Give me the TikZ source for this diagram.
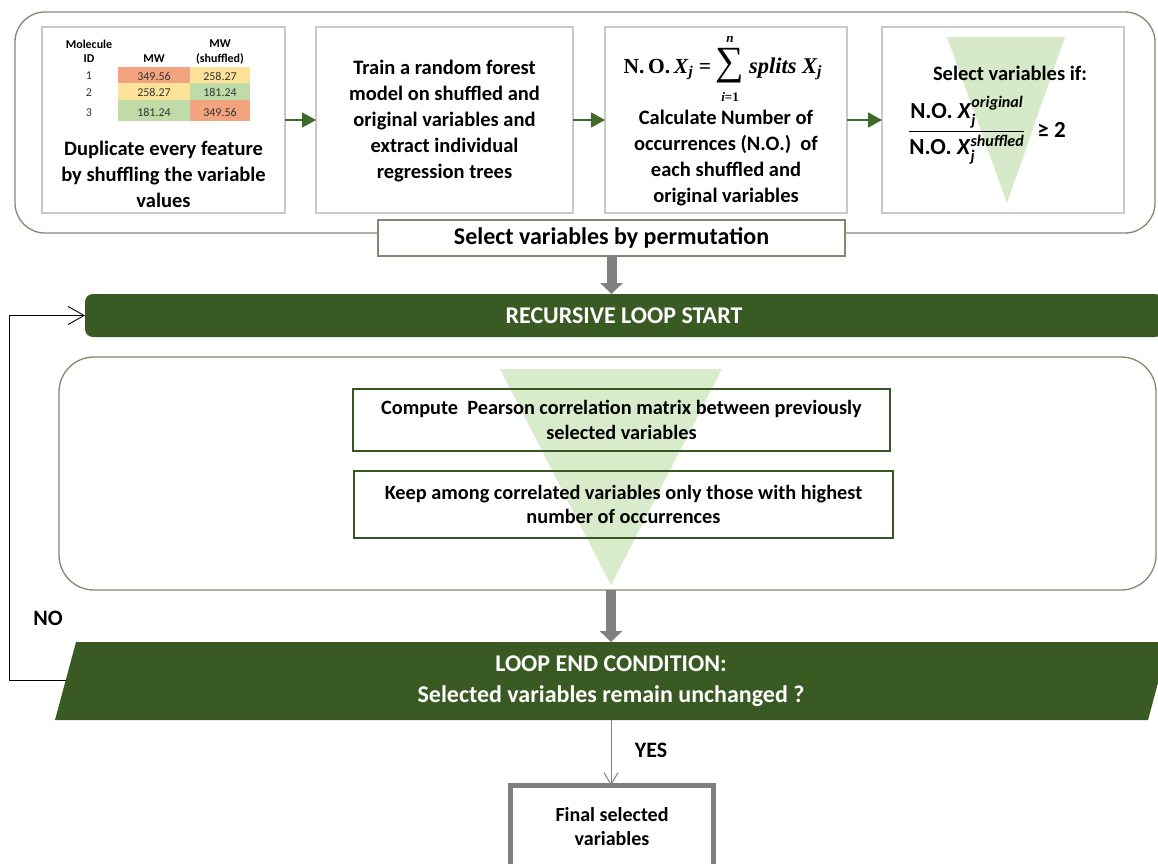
\documentclass[tikz,border=0pt]{standalone}
\usepackage{amsmath}
\usepackage[no-math]{fontspec}
\setmainfont{Carlito}
\newfontfamily\cambria{Liberation Serif}
\usetikzlibrary{arrows.meta,calc}
\definecolor{dg}{HTML}{3A5A23}
\definecolor{ag}{HTML}{3F6A27}
\definecolor{cb}{HTML}{7D8C6F}
\definecolor{bx}{HTML}{C9C9C9}
\definecolor{tri}{HTML}{CFE6BF}
\definecolor{gr}{HTML}{808080}
\definecolor{co}{HTML}{F3A47E}
\definecolor{cy}{HTML}{FDE39A}
\definecolor{cg}{HTML}{BFDBA8}
\definecolor{ib}{HTML}{375623}
\begin{document}
\begin{tikzpicture}[x=1pt,y=-1pt,
  every node/.style={inner sep=0pt,outer sep=0pt},
  container/.style={draw=cb,line width=1.3pt,fill=white,rounded corners=30pt},
  stepbox/.style={draw=bx,line width=1.2pt,minimum height=186pt},
  txt/.style={align=center,font=\fontsize{20.5}{26}\selectfont\bfseries},
  cell/.style={font=\fontsize{12}{14}\selectfont,text=black!80},
  hdr/.style={font=\fontsize{12}{14}\selectfont\bfseries},
  mathtxt/.style={font=\cambria\fontsize{21.5}{24}\selectfont\bfseries},
  limtxt/.style={font=\cambria\fontsize{13}{15}\selectfont\bfseries\itshape},
  garrow/.style={draw=ag,line width=1.8pt,-{Triangle[length=14pt,width=15pt]}},
  grayarrow/.style={draw=gr,line width=10pt,-{Triangle[length=11pt,width=22pt]}},
  thinarrow/.style={draw=black,line width=0.9pt,-{Straight Barb[length=16pt,width=18pt]}},
  yesarrow/.style={draw=gr,line width=1pt,-{Straight Barb[length=12pt,width=14pt]}},
  labbox/.style={draw=cb,line width=1.3pt,fill=white,font=\fontsize{24}{28}\selectfont\bfseries},
  greenbar/.style={fill=dg,rounded corners=8pt,text=white,font=\fontsize{24}{28}\selectfont\bfseries},
  innerbox/.style={draw=ib,line width=1.4pt,align=center,font=\fontsize{20.3}{24.5}\selectfont\bfseries},
  finalbox/.style={draw=gr,line width=5pt,fill=white,align=center,font=\fontsize{20}{23.5}\selectfont\bfseries}
]
\path[use as bounding box] (0,0) rectangle (1158,863);

% ---- top container
\node[container,minimum width=1140pt,minimum height=221pt] (perm) at (585,122.5) {};
\node[stepbox,minimum width=243pt] (b1) at (163.5,120) {};
\node[stepbox,minimum width=257pt] (b2) at (444.5,120) {};
\node[stepbox,minimum width=242pt] (b3) at (726,120) {};
\fill[tri,opacity=.85] (947,37) -- (1065,37) -- (1007,203) -- cycle;
\node[stepbox,minimum width=242pt] (b4) at (1003,120) {};

% table
\fill[co] (118,67) rectangle (190,83);
\fill[cy] (190,67) rectangle (250,83);
\fill[cy] (118,83) rectangle (190,100);
\fill[cg] (190,83) rectangle (250,100);
\fill[cg] (118,100) rectangle (190,121);
\fill[co] (190,100) rectangle (250,121);
\node[hdr] (h1) at (89,44) {Molecule};
\node[hdr] (h2) at (89,59) {ID};
\node[hdr] (h3) at (154,59) {MW};
\node[hdr] (h4) at (220,44) {MW};
\node[hdr] (h5) at (220,59) {(shuffled)};
\node[cell] (r1) at (89,76) {1};
\node[cell] (r2) at (89,92.5) {2};
\node[cell] (r3) at (89,112.5) {3};
\node[cell] (c11) at (154,76) {349.56};
\node[cell] (c12) at (220,76) {258.27};
\node[cell] (c21) at (154,92.5) {258.27};
\node[cell] (c22) at (220,92.5) {181.24};
\node[cell] (c31) at (154,112.5) {181.24};
\node[cell] (c32) at (220,112.5) {349.56};

\node[txt] (t1) at (163.5,174) {Duplicate every feature\\by shuffling the variable\\values};
\node[txt] (t2) at (444.5,121) {Train a random forest\\model on shuffled and\\original variables and\\extract individual\\regression trees};

% formula N.O. X_j = sum splits X_j
\node[mathtxt,anchor=base east] (fl) at (711,73) {N.\,O.\,\textit{X}\textsubscript{\textit{j}} =};
\node[font=\cambria\fontsize{40}{42}\selectfont] (fsum) at (730,66) {∑};
\node[limtxt] (fn) at (730,39) {n};
\node[limtxt] (fi) at (730,97) {i\upshape=1};
\node[mathtxt,anchor=base west,font=\cambria\fontsize{22.5}{24}\selectfont\bfseries\itshape] (fr) at (749,73) {splits~X\textsubscript{j}};

\node[txt] (t3) at (726,158) {Calculate Number of\\occurrences (N.O.)~ of\\each shuffled and\\original variables};
\node[txt] (t4) at (1010,73) {Select variables if:};
\node[font=\fontsize{23}{25}\selectfont\bfseries] (f4) at (987,130)
  {$\dfrac{\text{N.O. \textit{X}}^{\text{\textit{original}}}_{\text{\textit{j}}}}{\text{N.O. \textit{X}}^{\text{\textit{shuffled}}}_{\text{\textit{j}}}}$\hspace{12pt}≥ 2};

\draw[garrow] (b1.east) -- (b2.west);
\draw[garrow] (b2.east) -- (b3.west);
\draw[garrow] (b3.east) -- (b4.west);

\node[labbox,minimum width=467pt,minimum height=36pt] (sel) at (611.5,238) {Select variables by permutation};

% ---- loop start bar
\node[greenbar,minimum width=1078pt,minimum height=43pt] (bar) at (624,315.5) {RECURSIVE LOOP START};
\draw[grayarrow] (sel.south) -- (sel.south |- bar.north);

% ---- loop body
\node[container,rounded corners=35pt,minimum width=1097pt,minimum height=233pt] (loopbox) at (607.5,473.5) {};
\fill[tri,opacity=.8] (500,369) -- (722,369) -- (611,585) -- cycle;
\node[innerbox,minimum width=537pt,minimum height=62pt] (pearson) at (621.5,420)
  {Compute~ Pearson correlation matrix between previously\\selected variables};
\node[innerbox,minimum width=539pt,minimum height=67pt] (keep) at (623.5,504.5)
  {Keep among correlated variables only those with highest\\number of occurrences};

% ---- loop end condition
\fill[dg] (76,642) -- (1169,642) -- (1148,720) -- (55,720) -- cycle;
\node[align=center,text=white,font=\fontsize{24}{31}\selectfont\bfseries] (cond) at (611,681)
  {LOOP END CONDITION:\\Selected variables remain unchanged ?};
\coordinate (condTop) at (611,642);
\coordinate (condBot) at (611,720);
\coordinate (noStart) at (66,680);
\draw[grayarrow] (condTop |- loopbox.south) -- (condTop);

\draw[thinarrow] (noStart) -- ++(-57,0) |- (bar.west);
\node[font=\fontsize{22}{24}\selectfont\bfseries] (nolab) at (48,618) {NO};

\node[finalbox,minimum width=203pt,minimum height=82pt,anchor=north] (final) at (612,785.5) {Final selected\\variables};
\draw[yesarrow] (condBot) -- (condBot |- final.north);
\node[font=\fontsize{22}{24}\selectfont\bfseries] (yeslab) at (651,750) {YES};
\end{tikzpicture}
\end{document}
